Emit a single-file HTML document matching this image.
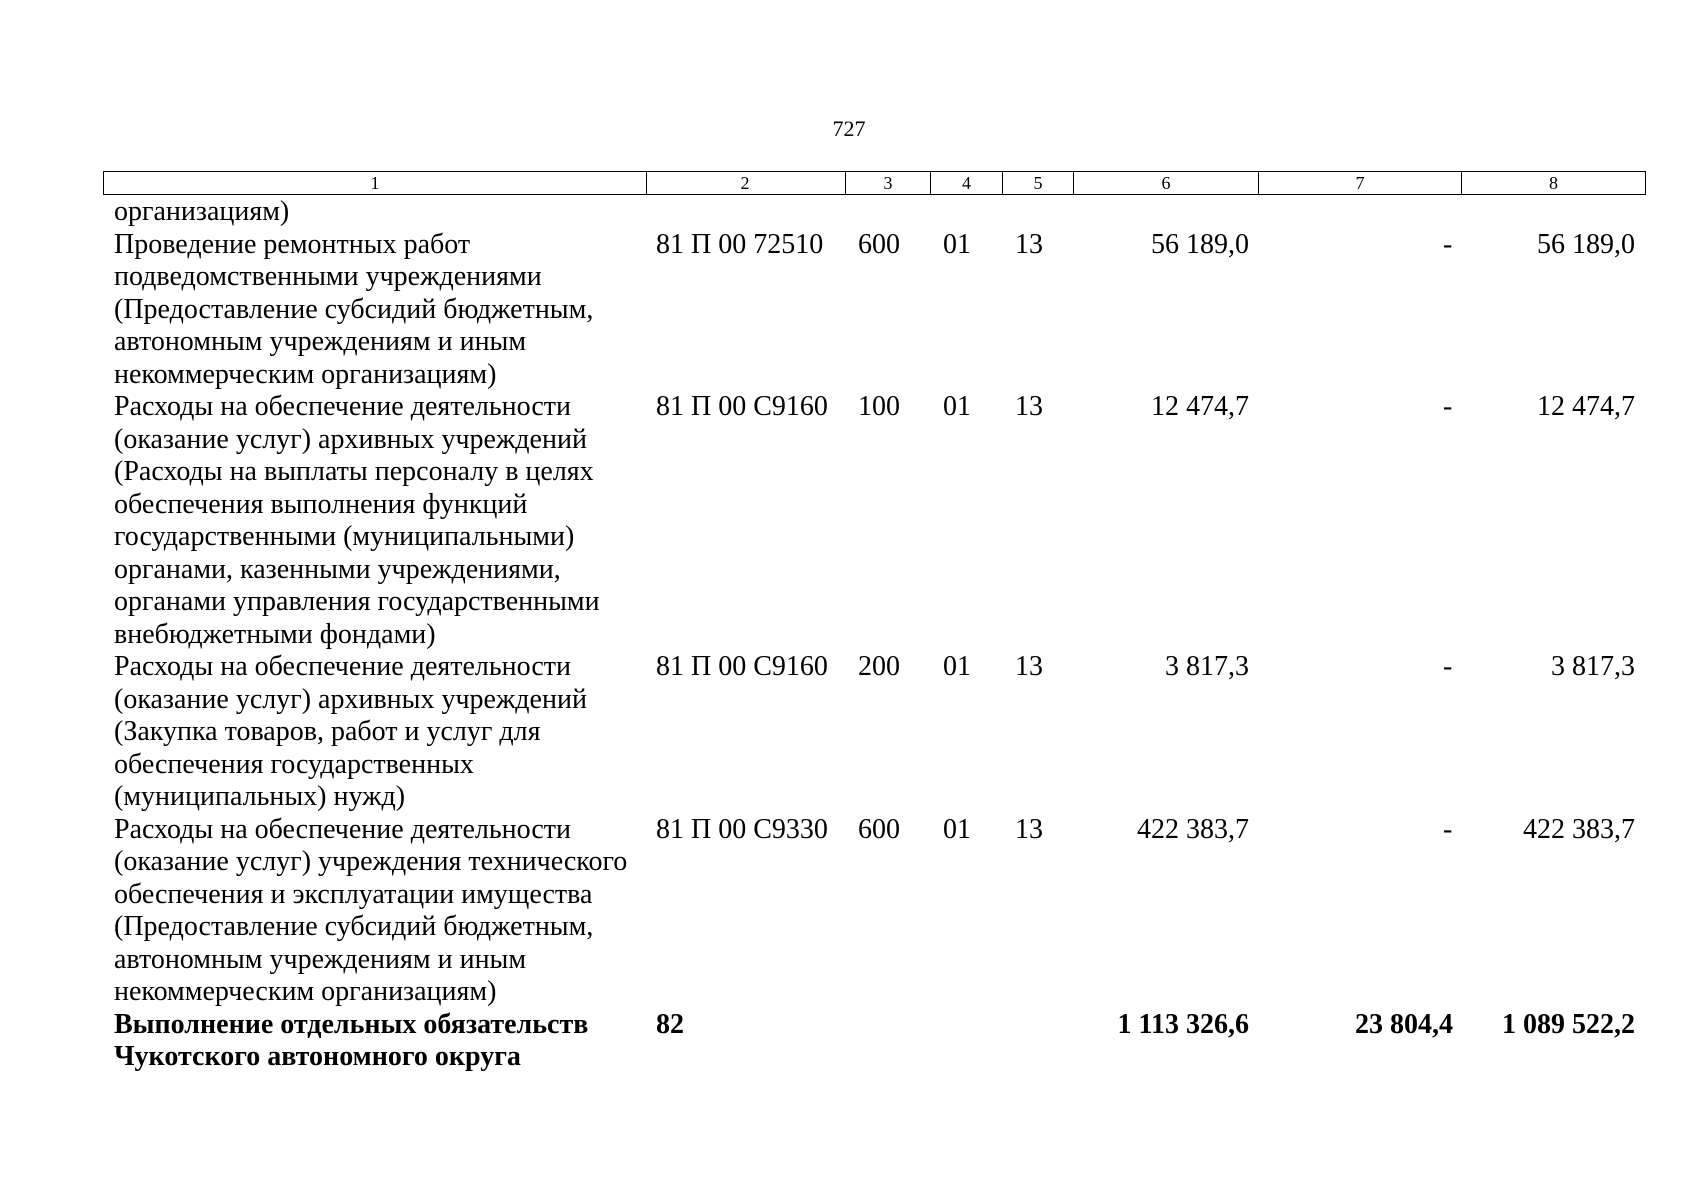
<!DOCTYPE html>
<html><head><meta charset="utf-8"><style>
body{margin:0;width:1698px;height:1200px;background:#fff;position:relative;overflow:hidden;font-family:"Liberation Serif",serif;color:#000}
.a{position:absolute;font-size:28px;line-height:32.5px;white-space:nowrap}
.r{text-align:right}
.b{font-weight:bold}
.h{position:absolute;top:171px;height:22px;border:1.5px solid #000;border-left:none;font-size:18px;line-height:22px;text-align:center}
</style></head><body>
<div class="a" style="left:0;width:1698px;top:113px;text-align:center;font-size:22px">727</div>
<div class="h" style="left:103px;width:542px;border-left:1.5px solid #000">1</div>
<div class="h" style="left:645px;width:200px">2</div>
<div class="h" style="left:846px;width:84px">3</div>
<div class="h" style="left:931px;width:71px">4</div>
<div class="h" style="left:1003px;width:70px">5</div>
<div class="h" style="left:1074px;width:184px">6</div>
<div class="h" style="left:1259px;width:202px">7</div>
<div class="h" style="left:1462px;width:183px">8</div>

<div class="a" style="left:114px;top:196px">организациям)<br>Проведение ремонтных работ<br>подведомственными учреждениями<br>(Предоставление субсидий бюджетным,<br>автономным учреждениям и иным<br>некоммерческим организациям)<br>Расходы на обеспечение деятельности<br>(оказание услуг) архивных учреждений<br>(Расходы на выплаты персоналу в целях<br>обеспечения выполнения функций<br>государственными (муниципальными)<br>органами, казенными учреждениями,<br>органами управления государственными<br>внебюджетными фондами)<br>Расходы на обеспечение деятельности<br>(оказание услуг) архивных учреждений<br>(Закупка товаров, работ и услуг для<br>обеспечения государственных<br>(муниципальных) нужд)<br>Расходы на обеспечение деятельности<br>(оказание услуг) учреждения технического<br>обеспечения и эксплуатации имущества<br>(Предоставление субсидий бюджетным,<br>автономным учреждениям и иным<br>некоммерческим организациям)<br><b>Выполнение отдельных обязательств<br>Чукотского автономного округа</b></div>

<div class="a" style="left:656px;top:228.5px">81 П 00 72510</div>
<div class="a" style="left:858px;top:228.5px">600</div>
<div class="a" style="left:943px;top:228.5px">01</div>
<div class="a" style="left:1015px;top:228.5px">13</div>
<div class="a r" style="right:449px;top:228.5px">56 189,0</div>
<div class="a" style="left:1443px;top:228.5px">-</div>
<div class="a r" style="right:63px;top:228.5px">56 189,0</div>

<div class="a" style="left:656px;top:391px">81 П 00 С9160</div>
<div class="a" style="left:858px;top:391px">100</div>
<div class="a" style="left:943px;top:391px">01</div>
<div class="a" style="left:1015px;top:391px">13</div>
<div class="a r" style="right:449px;top:391px">12 474,7</div>
<div class="a" style="left:1443px;top:391px">-</div>
<div class="a r" style="right:63px;top:391px">12 474,7</div>

<div class="a" style="left:656px;top:651px">81 П 00 С9160</div>
<div class="a" style="left:858px;top:651px">200</div>
<div class="a" style="left:943px;top:651px">01</div>
<div class="a" style="left:1015px;top:651px">13</div>
<div class="a r" style="right:449px;top:651px">3 817,3</div>
<div class="a" style="left:1443px;top:651px">-</div>
<div class="a r" style="right:63px;top:651px">3 817,3</div>

<div class="a" style="left:656px;top:813.5px">81 П 00 С9330</div>
<div class="a" style="left:858px;top:813.5px">600</div>
<div class="a" style="left:943px;top:813.5px">01</div>
<div class="a" style="left:1015px;top:813.5px">13</div>
<div class="a r" style="right:449px;top:813.5px">422 383,7</div>
<div class="a" style="left:1443px;top:813.5px">-</div>
<div class="a r" style="right:63px;top:813.5px">422 383,7</div>

<div class="a b" style="left:656px;top:1008.5px">82</div>
<div class="a r b" style="right:449px;top:1008.5px">1 113 326,6</div>
<div class="a r b" style="right:245px;top:1008.5px">23 804,4</div>
<div class="a r b" style="right:63px;top:1008.5px">1 089 522,2</div>
</body></html>
